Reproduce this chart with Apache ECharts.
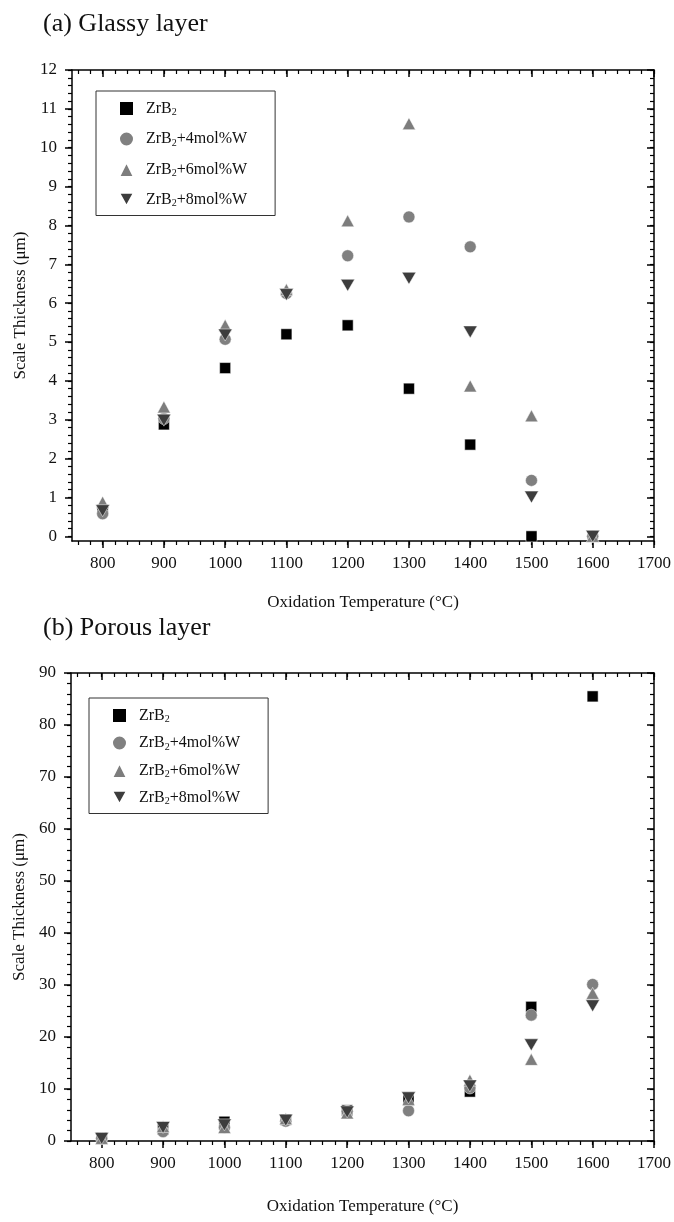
<!DOCTYPE html>
<html>
<head>
<meta charset="utf-8">
<script src="https://cdn.jsdelivr.net/npm/echarts@6/dist/echarts.min.js"></script>
<style>
  html, body { margin: 0; padding: 0; background: #fff; }
  #chart { width: 674px; height: 1222px; }
</style>
</head>
<body>
<div id="chart"></div>
<script>
var temps = [800, 900, 1000, 1100, 1200, 1300, 1400, 1500, 1600];
var seriesNames = ['ZrB2', 'ZrB2+4mol%W', 'ZrB2+6mol%W', 'ZrB2+8mol%W'];

// (a) glassy layer thickness, um
var glassyZrB2 = [0.68, 2.88, 4.33, 5.20, 5.43, 3.80, 2.36, 0.00, null];
var glassyW4   = [0.58, 3.03, 5.07, 6.25, 7.22, 8.22, 7.45, 1.44, 0.00];
var glassyW6   = [0.88, 3.33, 5.43, 6.35, 8.12, 10.62, 3.87, 3.10, 0.00];
var glassyW8   = [0.66, 2.99, 5.18, 6.22, 6.46, 6.64, 5.26, 1.01, 0.00];

// (b) porous layer thickness, um
var porousZrB2 = [0.6, 2.2, 3.7, 4.1, 5.9, 7.9, 9.5, 25.8, 85.5];
var porousW4   = [0.55, 1.8, 2.6, 3.8, 5.7, 5.8, 10.2, 24.2, 30.1];
var porousW6   = [0.5, 2.8, 2.6, 4.3, 5.4, 8.0, 11.7, 15.7, 28.4];
var porousW8   = [0.5, 2.6, 3.1, 4.0, 5.6, 8.3, 10.6, 18.5, 26.0];

// tick labels
var tempTicks = [800, 900, 1000, 1100, 1200, 1300, 1400, 1500, 1600, 1700];
var glassyTicks = [0, 1, 2, 3, 4, 5, 6, 7, 8, 9, 10, 11, 12];
var porousTicks = [0, 10, 20, 30, 40, 50, 60, 70, 80, 90];

var FONT = 'Liberation Serif';
var chart = echarts.init(document.getElementById('chart'));

// 4 minor ticks between majors
function minorValues(majors, min, max) {
    var step = (majors[1] - majors[0]) / 5, out = [];
    for (var i = -5; i <= 5 * majors.length + 5; i++) {
        var v = Math.round((majors[0] + i * step) * 1000) / 1000;
        if (v >= min && v <= max) out.push(v);
    }
    return out;
}

function makeAxes(g, pos, min, max, majors, name, nameGap, labelMargin) {
    var isMain = (pos === 'bottom' || pos === 'left');
    var base = {
        type: 'value', gridIndex: g, position: pos, min: min, max: max,
        splitLine: { show: false }
    };
    var major = Object.assign({}, base, {
        axisLine: { show: true, onZero: false, lineStyle: { color: '#000', width: 1.5 } },
        axisTick: { show: true, inside: !isMain, length: 7, customValues: majors,
                    lineStyle: { color: '#000', width: 1.5 } },
        axisLabel: isMain ? { show: true, customValues: majors, margin: labelMargin,
                              formatter: function (v) { return String(v); },
                              fontFamily: FONT, fontSize: 17, color: '#111' } : { show: false }
    });
    if (isMain) {
        major.name = name;
        major.nameLocation = 'middle';
        major.nameGap = nameGap;
        major.nameTextStyle = { fontFamily: FONT, fontSize: 17, color: '#111' };
    }
    var minor = Object.assign({}, base, {
        axisLine: { show: false, onZero: false },
        axisTick: { show: true, inside: !isMain, length: 4, customValues: minorValues(majors, min, max),
                    lineStyle: { color: '#000', width: 1.2 } },
        axisLabel: { show: false }
    });
    return [major, minor];
}

var xName = 'Oxidation Temperature (°C)';
var yName = 'Scale Thickness (μm)';

var xAxes = [].concat(
    makeAxes(0, 'bottom', 750, 1700, tempTicks, xName, 53, 14),
    makeAxes(0, 'top', 750, 1700, tempTicks),
    makeAxes(1, 'bottom', 750, 1700, tempTicks, xName, 57, 14),
    makeAxes(1, 'top', 750, 1700, tempTicks)
);
var yAxes = [].concat(
    makeAxes(0, 'left', -0.12, 12, glassyTicks, yName, 34, 15),
    makeAxes(0, 'right', -0.12, 12, glassyTicks),
    makeAxes(1, 'left', 0, 90, porousTicks, yName, 36, 15),
    makeAxes(1, 'right', 0, 90, porousTicks)
);

var markers = [
    { symbol: 'rect', size: 11, color: '#000000' },
    { symbol: 'circle', size: 12, color: '#808080' },
    { symbol: 'triangle', size: [13, 12], color: '#7d7d7d' },
    { symbol: 'path://M0,0 L10,0 L5,9 Z', size: [14, 12], color: '#3d3d3d' }
];

function pairs(values) {
    var out = [];
    temps.forEach(function (t, i) {
        if (values[i] !== null) out.push([t, values[i]]);
    });
    return out;
}

function makeSeries(sets, axisIndex) {
    return sets.map(function (vals, k) {
        return {
            name: seriesNames[k],
            type: 'scatter',
            xAxisIndex: axisIndex,
            yAxisIndex: axisIndex,
            symbol: markers[k].symbol,
            symbolSize: markers[k].size,
            itemStyle: { color: markers[k].color, borderColor: '#fff', borderWidth: 0.5, opacity: 1 },
            data: pairs(vals)
        };
    });
}

function legendLabel(name) {
    var rest = name.slice(4);
    return '{g|}{n|ZrB}{s|2}' + (rest ? '{n|' + rest + '}' : '');
}

function makeLegend(left, top, gap) {
    return {
        orient: 'vertical',
        left: left,
        top: top,
        data: seriesNames,
        itemWidth: 15,
        itemHeight: 15,
        itemGap: gap,
        padding: [9, 28, 7, 22],
        borderColor: '#333',
        borderWidth: 1,
        selectedMode: false,
        formatter: legendLabel,
        textStyle: {
            rich: {
                g: { width: 7 },
                n: { fontFamily: FONT, fontSize: 16, color: '#111' },
                s: { fontFamily: FONT, fontSize: 10, color: '#111', padding: [8, 0, 0, 0] }
            }
        }
    };
}

var option = {
    animation: false,
    backgroundColor: '#fff',
    title: [
        { text: '(a) Glassy layer', left: 43, top: 11, padding: 0,
          textStyle: { fontFamily: FONT, fontSize: 26, fontWeight: 'normal', color: '#111' } },
        { text: '(b) Porous layer', left: 43, top: 615, padding: 0,
          textStyle: { fontFamily: FONT, fontSize: 26, fontWeight: 'normal', color: '#111' } }
    ],
    grid: [
        { left: 72, top: 70, width: 584, height: 471 },
        { left: 71, top: 673, width: 583, height: 468 }
    ],
    legend: [makeLegend(96, 91, 13), makeLegend(89, 698, 10)],
    xAxis: xAxes,
    yAxis: yAxes,
    series: [].concat(
        makeSeries([glassyZrB2, glassyW4, glassyW6, glassyW8], 0),
        makeSeries([porousZrB2, porousW4, porousW6, porousW8], 4)
    )
};

chart.setOption(option);
</script>
</body>
</html>
